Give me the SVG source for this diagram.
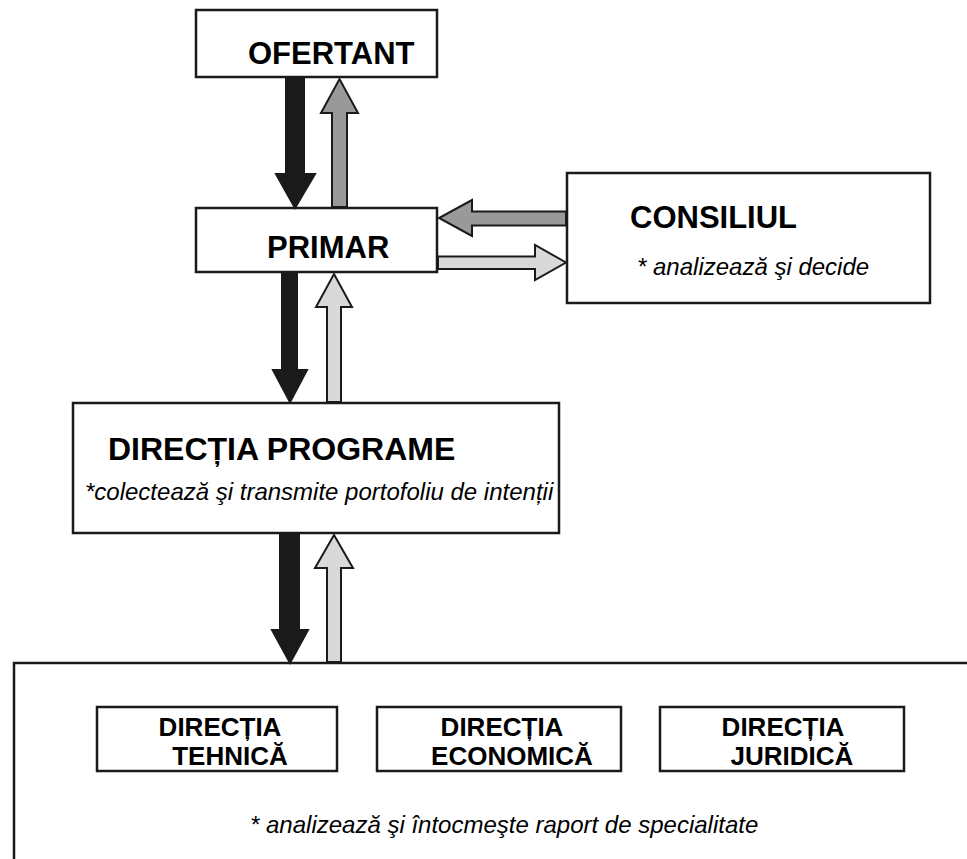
<svg xmlns="http://www.w3.org/2000/svg" width="967" height="859" viewBox="0 0 967 859">
<style>
.box{fill:#fff;stroke:#1a1a1a;stroke-width:2.5}
.t{font-family:"Liberation Sans",Arial,sans-serif;fill:#000}
.b{font-weight:bold}
.i{font-style:italic;font-size:24px}
.ar{stroke:#1a1a1a;stroke-width:2;stroke-linejoin:miter}
.dark{fill:#1a1a1a}
.mid{fill:#999}
.light{fill:#d9d9d9}
</style>
<rect width="967" height="859" fill="#fff"/>
<g id="ofertant">
<rect class="box" x="196" y="10" width="241" height="67"/>
<text class="t b" x="248" y="64" font-size="31">OFERTANT</text>
</g>
<g id="primar">
<rect class="box" x="196" y="208" width="241" height="64"/>
<text class="t b" x="267" y="258" font-size="31">PRIMAR</text>
</g>
<g id="consiliul">
<rect class="box" x="567" y="173" width="363" height="130"/>
<text class="t b" x="630" y="228" font-size="31">CONSILIUL</text>
<text class="t i" x="637" y="275">* analizează şi decide</text>
</g>
<g id="directia-programe">
<rect class="box" x="73" y="403" width="486" height="130"/>
<text class="t b" x="108" y="460" font-size="32">DIRECȚIA PROGRAME</text>
<text class="t i" x="85" y="500">*colectează şi transmite portofoliu de intenții</text>
</g>
<g id="directii">
<path d="M967 663 H14 V859" fill="none" stroke="#1a1a1a" stroke-width="2.5"/>
<text class="t i" x="250" y="833">* analizează şi întocmeşte raport de specialitate</text>
</g>
<g id="directia-tehnica">
<rect class="box" x="97" y="707" width="240" height="64"/>
<text class="t b" x="220" y="736" font-size="26" text-anchor="middle">DIRECȚIA</text>
<text class="t b" x="230" y="765" font-size="26" text-anchor="middle">TEHNICĂ</text>
</g>
<g id="directia-economica">
<rect class="box" x="377" y="707" width="244" height="64"/>
<text class="t b" x="502" y="736" font-size="26" text-anchor="middle">DIRECȚIA</text>
<text class="t b" x="512" y="765" font-size="26" text-anchor="middle">ECONOMICĂ</text>
</g>
<g id="directia-juridica">
<rect class="box" x="660" y="707" width="244" height="64"/>
<text class="t b" x="783" y="736" font-size="26" text-anchor="middle">DIRECȚIA</text>
<text class="t b" x="792" y="765" font-size="26" text-anchor="middle">JURIDICĂ</text>
</g>
<g id="connectors">
<polygon class="ar dark" points="286,78 304,78 304,174 315,174 295,208 276,174 286,174"/>
<polygon class="ar mid" points="332,207 347,207 347,113 358,113 339.5,79 321,113 332,113"/>
<polygon class="ar mid" points="566,211.5 472,211.5 472,200 439,218 472,236 472,225.5 566,225.5"/>
<polygon class="ar light" points="438,256.5 535,256.5 535,245 566,262.5 535,280 535,269 438,269"/>
<polygon class="ar dark" points="282,273 297,273 297,370 307,370 290,402 273,370 282,370"/>
<polygon class="ar light" points="327,402 341,402 341,307 352,307 334,274 316,307 327,307"/>
<polygon class="ar dark" points="280,534 299,534 299,630 308,630 290,663 272,630 280,630"/>
<polygon class="ar light" points="327,662 341,662 341,568 353,568 334,535 315,568 327,568"/>
</g>
</svg>
